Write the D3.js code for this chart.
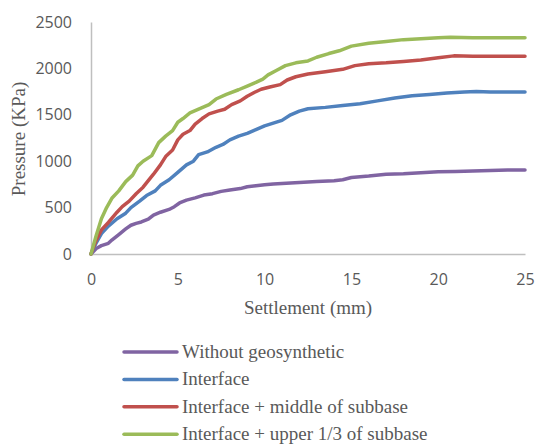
<!DOCTYPE html>
<html>
<head>
<meta charset="utf-8">
<script src="https://cdn.jsdelivr.net/npm/d3@7"></script>
<style>
  html, body { margin: 0; padding: 0; background: #fff; }
  svg { display: block; }
</style>
</head>
<body>
<svg id="chart" width="535" height="444"></svg>
<script>
// Settlement (mm) / pressure (kPa) pairs for each reinforcement arrangement
const withoutGeo = [
  [0,0],[0.3,60],[0.6,90],[1.0,115],[1.2,150],[1.6,210],[2.0,270],[2.3,310],[2.6,330],[2.9,345],
  [3.3,375],[3.6,420],[4.0,450],[4.5,480],[4.8,510],[5.1,550],[5.5,580],[6.0,605],[6.5,635],[7.0,650],
  [7.5,675],[8.0,690],[8.6,705],[9.0,725],[9.5,735],[10.0,745],[10.5,755],[11.0,760],[12.0,770],
  [13.0,780],[14.0,790],[14.5,800],[15.0,825],[16.0,840],[17.0,860],[18.0,865],[19.0,875],[20.0,885],
  [21.0,890],[22.0,895],[23.0,900],[24.0,905],[25.0,905]
];
const interfaceOnly = [
  [0,0],[0.3,120],[0.6,220],[1.0,300],[1.5,380],[2.0,440],[2.3,500],[2.8,570],[3.2,630],[3.7,680],
  [4.0,740],[4.5,800],[5.0,880],[5.5,960],[5.9,1000],[6.2,1070],[6.7,1100],[7.2,1150],[7.6,1180],
  [8.0,1230],[8.5,1270],[9.0,1300],[9.5,1340],[10.0,1380],[10.5,1410],[11.0,1440],[11.5,1500],
  [12.0,1540],[12.5,1565],[13.5,1580],[14.5,1600],[15.5,1620],[16.5,1650],[17.5,1680],[18.5,1705],
  [19.5,1720],[20.5,1735],[21.5,1745],[22.2,1750],[23.0,1745],[25.0,1745]
];
const interfaceMiddle = [
  [0,0],[0.3,150],[0.6,260],[1.0,340],[1.5,450],[1.8,510],[2.2,570],[2.6,650],[3.0,720],[3.3,790],
  [3.6,860],[4.0,960],[4.3,1050],[4.7,1120],[5.0,1230],[5.3,1290],[5.7,1330],[6.0,1400],[6.4,1460],
  [6.8,1510],[7.3,1540],[7.7,1560],[8.1,1610],[8.6,1650],[9.0,1700],[9.4,1740],[9.8,1775],[10.3,1800],
  [10.9,1825],[11.3,1875],[11.8,1910],[12.5,1940],[13.5,1965],[14.5,1990],[15.2,2030],[16.0,2050],
  [17.0,2060],[18.0,2075],[19.0,2090],[20.0,2115],[20.9,2135],[22.0,2130],[25.0,2130]
];
const interfaceUpper = [
  [0,0],[0.3,200],[0.6,380],[0.9,500],[1.2,600],[1.6,680],[2.0,780],[2.4,850],[2.7,950],[3.0,1000],
  [3.5,1060],[3.9,1200],[4.3,1270],[4.7,1330],[5.0,1420],[5.3,1460],[5.7,1520],[6.2,1560],[6.8,1610],
  [7.2,1670],[7.8,1720],[8.5,1770],[9.0,1810],[9.5,1850],[9.9,1885],[10.2,1930],[10.7,1980],
  [11.2,2030],[11.8,2060],[12.5,2080],[13.0,2120],[13.7,2160],[14.3,2190],[15.0,2240],[16.0,2270],
  [17.0,2290],[18.0,2310],[19.0,2320],[20.0,2330],[20.7,2335],[22.0,2330],[25.0,2330]
];

const seriesNames = [
  "Without geosynthetic",
  "Interface",
  "Interface + middle of subbase",
  "Interface + upper 1/3 of subbase"
];
const seriesColors = ["#8064A2", "#4F81BD", "#C0504D", "#9BBB59"];
const seriesData = [withoutGeo, interfaceOnly, interfaceMiddle, interfaceUpper];

const xTicks = [0, 5, 10, 15, 20, 25];
const yTicks = [0, 500, 1000, 1500, 2000, 2500];
const xTitle = "Settlement (mm)";
const yTitle = "Pressure (KPa)";

const svg = d3.select("#chart");
const textColor = "#595959";
const axisColor = "#BFBFBF";
const serif = "Liberation Serif, Times New Roman, serif";

const x = d3.scaleLinear().domain([0, 25]).range([91, 525]);
const y = d3.scaleLinear().domain([0, 2500]).range([254, 22]);

// axes
const xAxis = svg.append("g").attr("transform", `translate(0,${y(0)})`)
  .call(d3.axisBottom(x).tickValues(xTicks).tickFormat(d3.format("d")).tickSize(0).tickPadding(20));
const yAxis = svg.append("g").attr("transform", `translate(${x(0)},0)`)
  .call(d3.axisLeft(y).tickValues(yTicks).tickFormat(d3.format("d")).tickSize(0).tickPadding(19));

[xAxis, yAxis].forEach(g => {
  g.select(".domain").attr("stroke", axisColor).attr("stroke-width", 1.5);
  g.selectAll("text")
    .attr("font-family", "Open Sans, sans-serif")
    .attr("font-size", 16)
    .attr("fill", textColor);
});

// curves
const line = d3.line().x(d => x(d[0])).y(d => y(d[1])).curve(d3.curveLinear);
seriesData.forEach((data, i) => {
  svg.append("path")
    .datum(data)
    .attr("d", line)
    .attr("fill", "none")
    .attr("stroke", seriesColors[i])
    .attr("stroke-width", 3.5)
    .attr("stroke-linejoin", "round")
    .attr("stroke-linecap", "round");
});

// axis titles
svg.append("text")
  .attr("x", 308).attr("y", 314)
  .attr("text-anchor", "middle")
  .attr("font-family", serif)
  .attr("font-size", 19)
  .attr("fill", textColor)
  .text(xTitle);

svg.append("text")
  .attr("transform", "translate(25,139) rotate(-90)")
  .attr("text-anchor", "middle")
  .attr("font-family", serif)
  .attr("font-size", 19)
  .attr("fill", textColor)
  .text(yTitle);

// legend
const legend = svg.append("g");
seriesNames.forEach((name, i) => {
  const ly = 352 + i * 27.4;
  legend.append("line")
    .attr("x1", 124).attr("x2", 177)
    .attr("y1", ly).attr("y2", ly)
    .attr("stroke", seriesColors[i])
    .attr("stroke-width", 3.5)
    .attr("stroke-linecap", "round");
  legend.append("text")
    .attr("x", 182).attr("y", ly + 6)
    .attr("font-family", serif)
    .attr("font-size", 19)
    .attr("fill", textColor)
    .text(name);
});
</script>
</body>
</html>
